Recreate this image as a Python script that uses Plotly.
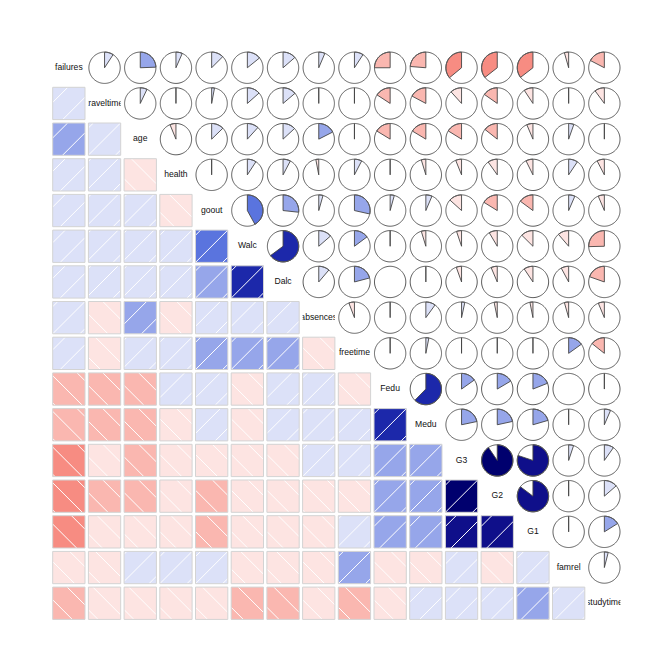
import numpy as np
import plotly.graph_objects as go

# ---------------- data ----------------
variables = ["failures", "traveltime", "age", "health", "goout", "Walc", "Dalc",
             "absences", "freetime", "Fedu", "Medu", "G3", "G2", "G1", "famrel", "studytime"]
# observed range of each variable (sets the panel user coordinates used by the hatching)
var_min = [0, 1, 15, 1, 1, 1, 1, 0, 1, 0, 0, 0, 0, 3, 1, 1]
var_max = [3, 4, 22, 5, 5, 5, 5, 75, 5, 4, 4, 20, 19, 19, 5, 4]

# lower triangle of the correlation matrix (row i: correlations with variables 0..i-1)
corr_lower = [
    [],
    [0.092],
    [0.244, 0.071],
    [0.066, 0.008, -0.062],
    [0.125, 0.029, 0.127, -0.010],
    [0.142, 0.134, 0.117, 0.092, 0.420],
    [0.136, 0.138, 0.131, 0.077, 0.267, 0.648],
    [0.064, -0.013, 0.175, -0.030, 0.044, 0.136, 0.112],
    [0.092, -0.017, 0.016, 0.076, 0.285, 0.148, 0.209, -0.058],
    [-0.250, -0.158, -0.163, 0.015, 0.043, -0.013, 0.002, 0.024, -0.013],
    [-0.237, -0.172, -0.164, -0.047, 0.064, -0.047, 0.020, 0.100, 0.031, 0.623],
    [-0.360, -0.117, -0.162, -0.061, -0.133, -0.052, -0.055, 0.034, 0.011, 0.152, 0.217],
    [-0.356, -0.153, -0.1435, -0.098, -0.162, -0.085, -0.064, -0.032, -0.014, 0.165, 0.216, 0.905],
    [-0.355, -0.093, -0.064, -0.073, -0.149, -0.126, -0.094, -0.031, 0.013, 0.190, 0.205, 0.801, 0.852],
    [-0.044, -0.017, 0.054, 0.094, 0.065, -0.113, -0.078, -0.044, 0.151, -0.001, -0.004, 0.051, -0.018, 0.022],
    [-0.174, -0.101, -0.004, -0.076, -0.064, -0.254, -0.196, -0.063, -0.1432, -0.009, 0.065, 0.098, 0.136, 0.161, 0.040],
]

# 14-step red-salmon-white-royalblue-navy palette
palette = ["#ff0000", "#fc2824", "#fa5046", "#f87369", "#f78c82", "#fab7b0", "#fde4e2",
           "#dce1f8", "#96a6ea", "#5a74de", "#3750cd", "#1c28aa", "#0f0f8a", "#00006e"]

n = len(variables)
C = np.eye(n)
for i, row in enumerate(corr_lower):
    for j, v in enumerate(row):
        C[i, j] = v
        C[j, i] = v

# ---------------- geometry (window pixels) ----------------
WIN = 672
OFF = 8            # page body margin
FIG = WIN - OFF
PITCH = 35.7
BOX = 32.3
X0 = 52.7
Y0 = 51.6
HATCH = 96 / 5 / np.sin(np.pi / 4)   # R hatch spacing, density = 5 lines / inch


def cell(i, j):
    L = X0 + j * PITCH
    T = Y0 + i * PITCH
    return L, T


def bin_index(r):
    k = int(np.ceil((r + 1) * 7 - 1e-12))
    return min(max(k, 1), 14) - 1


def usr(k):
    lo, hi = var_min[k], var_max[k]
    ext = 0.04 * (hi - lo)
    return lo - ext, hi + ext


fill_paths = {}
hatch_path = []
border_path = []
wedge_paths = {}
circle_path = []

for i in range(n):
    for j in range(n):
        if i == j:
            continue
        r = C[i, j]
        b = bin_index(r)
        L, T = cell(i, j)
        R_, B_ = L + BOX, T + BOX
        if i > j:
            # shaded lower panel
            rect = f"M{L:.2f},{T:.2f}L{R_:.2f},{T:.2f}L{R_:.2f},{B_:.2f}L{L:.2f},{B_:.2f}Z"
            fill_paths.setdefault(b, []).append(rect)
            border_path.append(rect)
            xl, xh = usr(j)
            yl, yh = usr(i)
            px0 = L + BOX * (0 - xl) / (xh - xl)
            py0 = B_ - BOX * (0 - yl) / (yh - yl)
            for k in range(-200, 200):
                if r > 0:
                    Cc = px0 + py0 + k * HATCH
                    xs = max(L, Cc - B_)
                    xe = min(R_, Cc - T)
                    if xe - xs > 0.3:
                        hatch_path.append(f"M{xs:.2f},{Cc - xs:.2f}L{xe:.2f},{Cc - xe:.2f}")
                else:
                    D = py0 - (px0 + k * HATCH)
                    xs = max(L, T - D)
                    xe = min(R_, B_ - D)
                    if xe - xs > 0.3:
                        hatch_path.append(f"M{xs:.2f},{xs + D:.2f}L{xe:.2f},{xe + D:.2f}")
        else:
            # pie upper panel
            cx, cy = L + BOX / 2, T + BOX / 2
            rad = BOX / 2 * 0.97
            seg = int(round(60 * abs(r)))
            if abs(r) >= 0.003:
                seg = max(seg, 1)
            if seg > 0:
                ang = np.linspace(np.pi / 2, np.pi / 2 - 2 * np.pi * r, seg)
                pts = "".join(f"L{cx + rad * np.cos(a):.2f},{cy - rad * np.sin(a):.2f}" for a in ang)
                wedge_paths.setdefault(b, []).append(f"M{cx:.2f},{cy:.2f}{pts}Z")
            t = np.linspace(0, 2 * np.pi, 97)
            pts = "".join(("M" if q == 0 else "L") + f"{cx + rad * np.cos(a):.2f},{cy + rad * np.sin(a):.2f}"
                          for q, a in enumerate(t))
            circle_path.append(pts + "Z")

shapes = []
for b, paths in fill_paths.items():
    shapes.append(dict(type="path", path="".join(paths), fillcolor=palette[b],
                       line=dict(width=0), xref="x", yref="y", layer="above"))
shapes.append(dict(type="path", path="".join(hatch_path), line=dict(color="white", width=1),
                   xref="x", yref="y", layer="above"))
shapes.append(dict(type="path", path="".join(border_path), line=dict(color="#d3d3d3", width=1),
                   xref="x", yref="y", layer="above"))
for b, paths in wedge_paths.items():
    shapes.append(dict(type="path", path="".join(paths), fillcolor=palette[b],
                       line=dict(color="#444444", width=0.9), xref="x", yref="y", layer="above"))
shapes.append(dict(type="path", path="".join(circle_path), line=dict(color="#5a5a5a", width=1),
                   xref="x", yref="y", layer="above"))

fig = go.Figure()
fig.add_trace(go.Scatter(x=[OFF, WIN], y=[OFF, WIN], mode="markers", marker=dict(opacity=0),
                         hoverinfo="skip", showlegend=False))

layout_axes = {}
for k, name in enumerate(variables):
    L, T = cell(k, k)
    ax = k + 2
    fig.add_trace(go.Scatter(x=[0.5], y=[0.5], mode="text", text=[name],
                             textfont=dict(family="Liberation Sans, Arial, sans-serif", size=8.6, color="#111111"),
                             textposition="middle center", cliponaxis=True,
                             xaxis=f"x{ax}", yaxis=f"y{ax}", hoverinfo="skip", showlegend=False))
    layout_axes[f"xaxis{ax}"] = dict(domain=[(L - OFF) / FIG, (L + BOX - OFF) / FIG], range=[0, 1],
                                      visible=False, fixedrange=True, anchor=f"y{ax}")
    layout_axes[f"yaxis{ax}"] = dict(domain=[1 - (T + BOX - OFF) / FIG, 1 - (T - OFF) / FIG], range=[0, 1],
                                      visible=False, fixedrange=True, anchor=f"x{ax}")

fig.update_layout(
    width=FIG, height=FIG, autosize=False,
    margin=dict(l=0, r=0, t=0, b=0),
    paper_bgcolor="white", plot_bgcolor="white",
    xaxis=dict(range=[OFF, WIN], domain=[0, 1], visible=False, fixedrange=True),
    yaxis=dict(range=[WIN, OFF], domain=[0, 1], visible=False, fixedrange=True),
    shapes=shapes,
    showlegend=False,
    **layout_axes,
)

fig.write_html("out.html")
